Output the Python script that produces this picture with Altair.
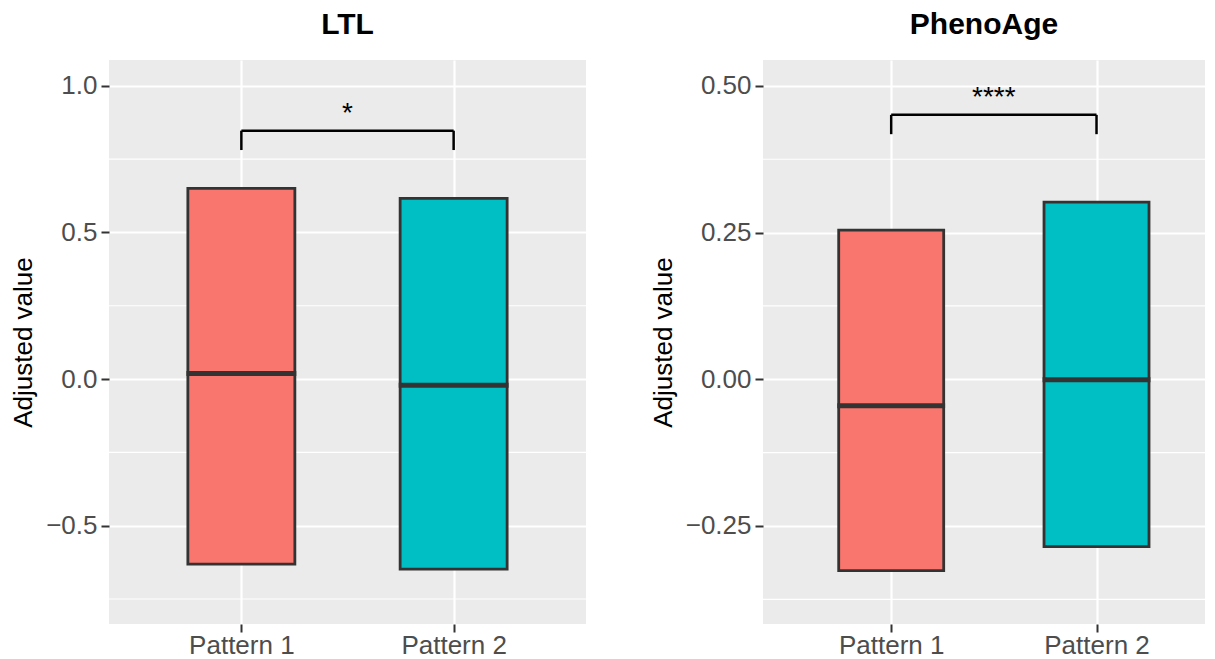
import json
import altair as alt
import pandas as pd

# ---- data ----
groups = ["Pattern 1", "Pattern 2"]
group_pos = [1, 2]
fill_colors = ["#F8766D", "#00BFC4"]

ltl_q1 = [-0.631, -0.648]
ltl_median = [0.019, -0.021]
ltl_q3 = [0.650, 0.616]

pheno_q1 = [-0.326, -0.285]
pheno_median = [-0.045, -0.001]
pheno_q3 = [0.254, 0.302]

panel_titles = ["LTL", "PhenoAge"]
sig_labels = ["*", "****"]
bracket_top = [0.847, 0.4505]
bracket_tip = [0.781, 0.4176]
sig_label_y = [0.878, 0.465]

ltl_ticks = [-0.5, 0.0, 0.5, 1.0]
ltl_minor = [-0.75, -0.25, 0.25, 0.75]
pheno_ticks = [-0.25, 0.0, 0.25, 0.50]
pheno_minor = [-0.375, -0.125, 0.125, 0.375]

ltl_ydomain = [-0.835, 1.088]
pheno_ydomain = [-0.417, 0.544]

FONT = "Liberation Sans"
label_expr = json.dumps(groups) + "[datum.value - 1]"


def panel(title, q1, med, q3, btop, btip, sig, sig_y, ticks, minor, ydomain,
          xdomain, width, fmt, box_size):
    yscale = alt.Scale(domain=ydomain, nice=False, zero=False)
    xscale = alt.Scale(domain=xdomain, nice=False, zero=False)
    xaxis = alt.Axis(values=group_pos, labelExpr=label_expr, title=None,
                     grid=True, gridColor="white", gridWidth=2.2)
    yaxis = alt.Axis(values=ticks, format=fmt, title="Adjusted value",
                     grid=True, gridColor="white", gridWidth=2.2)

    boxes = pd.DataFrame({"group": groups, "pos": group_pos, "q1": q1,
                          "median": med, "q3": q3})
    minor_df = pd.DataFrame({"v": minor})
    bracket_h = pd.DataFrame({"x1": [group_pos[0]], "x2": [group_pos[-1]],
                              "y": [btop]})
    bracket_v = pd.DataFrame({"pos": group_pos, "y": [btop] * len(group_pos),
                              "tip": [btip] * len(group_pos)})
    sig_df = pd.DataFrame({"x": [sum(group_pos) / len(group_pos)],
                           "y": [sig_y], "label": [sig]})

    minor_grid = alt.Chart(minor_df).mark_rule(color="white", strokeWidth=1.1).encode(
        y=alt.Y("v:Q", scale=yscale, axis=yaxis),
        x=alt.value(0), x2=alt.value(width),
    )
    bars = alt.Chart(boxes).mark_bar(size=box_size, stroke="#333333",
                                     strokeWidth=2.8).encode(
        x=alt.X("pos:Q", scale=xscale, axis=xaxis),
        y=alt.Y("q1:Q", scale=yscale),
        y2="q3:Q",
        color=alt.Color("group:N", scale=alt.Scale(domain=groups, range=fill_colors),
                        legend=None),
    )
    medians = alt.Chart(boxes).mark_tick(orient="horizontal", size=box_size + 2.8,
                                         thickness=5, color="#333333", opacity=1).encode(
        x=alt.X("pos:Q", scale=xscale),
        y=alt.Y("median:Q", scale=yscale),
    )
    b_h = alt.Chart(bracket_h).mark_rule(color="black", strokeWidth=2.5).encode(
        x=alt.X("x1:Q", scale=xscale), x2="x2:Q",
        y=alt.Y("y:Q", scale=yscale),
    )
    b_v = alt.Chart(bracket_v).mark_rule(color="black", strokeWidth=2.5).encode(
        x=alt.X("pos:Q", scale=xscale),
        y=alt.Y("y:Q", scale=yscale), y2="tip:Q",
    )
    txt = alt.Chart(sig_df).mark_text(font=FONT, fontSize=28, color="black",
                                      baseline="alphabetic", align="center").encode(
        x=alt.X("x:Q", scale=xscale),
        y=alt.Y("y:Q", scale=yscale),
        text="label:N",
    )
    return alt.layer(minor_grid, bars, medians, b_h, b_v, txt).properties(
        width=width, height=564,
        title=alt.TitleParams(title, font=FONT, fontSize=30, fontWeight="bold",
                              color="black", anchor="middle", offset=20),
    )


left = panel(panel_titles[0], ltl_q1, ltl_median, ltl_q3, bracket_top[0],
             bracket_tip[0], sig_labels[0], sig_label_y[0], ltl_ticks, ltl_minor,
             ltl_ydomain, [0.4, 2.6], 477, ".1f", 107)
right = panel(panel_titles[1], pheno_q1, pheno_median, pheno_q3, bracket_top[1],
              bracket_tip[1], sig_labels[1], sig_label_y[1], pheno_ticks, pheno_minor,
              pheno_ydomain, [0.4, 2.504], 442, ".2f", 105)

chart = alt.hconcat(left, right, spacing=63).properties(
    padding={"left": 2, "top": 2, "right": 0, "bottom": 0},
).configure_view(
    fill="#EBEBEB", stroke=None,
).configure_axis(
    domain=False,
    tickColor="#333333", tickWidth=2, tickSize=8,
    labelFont=FONT, labelFontSize=26, labelColor="#4D4D4D", labelPadding=4,
    titleFont=FONT, titleFontSize=26, titleFontWeight="normal", titleColor="black",
    titlePadding=9,
).configure_axisX(
    labelPadding=0,
)

chart.save("out.html", embed_options={"renderer": "svg", "actions": False})
